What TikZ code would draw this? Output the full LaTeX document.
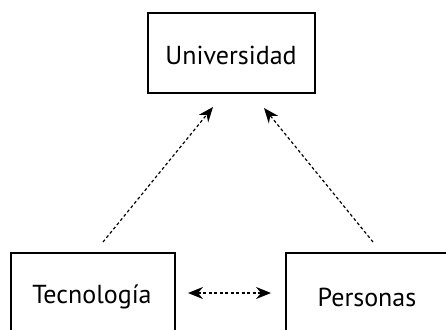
\documentclass[tikz,border=0pt]{standalone}
\usepackage{fontspec}
\setmainfont{PT Sans}
\usetikzlibrary{arrows.meta}
\begin{document}
\begin{tikzpicture}[x=1pt,y=-1pt,
  box/.style={draw,line width=2.2pt,inner sep=0pt},
  lbl/.style={inner sep=0pt,font=\fontsize{26}{31}\selectfont},
  tip/.tip={Stealth[length=15pt,width=12pt,inset=5pt]},
  dep/.style={dash pattern=on 3pt off 2.5pt,line width=1.2pt,-tip},
  dep2/.style={dash pattern=on 3pt off 2.5pt,line width=1.2pt,tip-tip}]
\useasboundingbox (0,0) rectangle (446,329);
\clip (0,0) rectangle (446,329);
\draw[box] (148,13) rectangle (315,93);
\draw[box] (11,253) rectangle (175,345);
\draw[box] (286,253) rectangle (460,345);
\node[lbl] (u) at (231,55) {Universidad};
\node[lbl] (t) at (92,297) {Tecnología};
\node[lbl] (p) at (367,297) {Personas};
\coordinate (ls) at (103,242);
\coordinate (lt) at (213,107);
\coordinate (rs) at (373,242);
\coordinate (rt) at (264,108);
\coordinate (hs) at (188,293);
\coordinate (he) at (271,293);
\draw[dep] (ls) -- (lt);
\draw[dep] (rs) -- (rt);
\draw[dep2] (hs) -- (he);
\end{tikzpicture}
\end{document}
